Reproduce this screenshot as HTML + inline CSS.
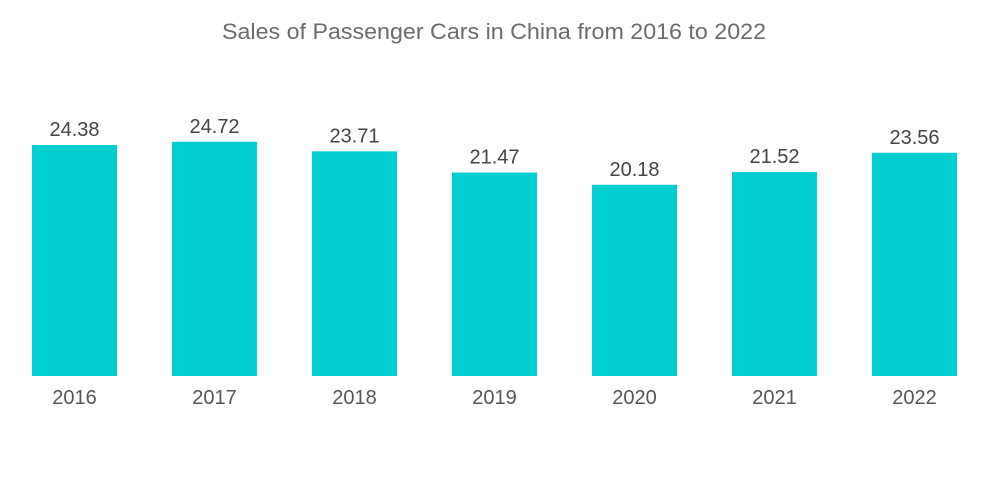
<!DOCTYPE html>
<html><head><meta charset="utf-8"><style>
html,body{margin:0;padding:0;background:#fff;}
svg{display:block;font-family:"Liberation Sans",sans-serif;}
</style></head><body>
<svg id="chart" width="1000" height="504" viewBox="0 0 1000 504">
<text x="494" y="39" text-anchor="middle" font-size="22" fill="#6b6b6b" textLength="544" lengthAdjust="spacingAndGlyphs">Sales of Passenger Cars in China from 2016 to 2022</text>
<g id="bars"></g>
</svg>
<script>
const categories = ["2016","2017","2018","2019","2020","2021","2022"];
const values = [24.38,24.72,23.71,21.47,20.18,21.52,23.56];
const valueLabels = ["24.38","24.72","23.71","21.47","20.18","21.52","23.56"];

const baseY = 376, pxPerUnit = 9.475, x0 = 32, pitch = 140, bw = 85;
function xPos(i){ return x0 + i * pitch; }
function yPos(v){ return baseY - v * pxPerUnit; }
const g = document.getElementById('bars');
const ns = "http://www.w3.org/2000/svg";
categories.forEach((c,i)=>{
  const r = document.createElementNS(ns,'rect');
  
  
  r.setAttribute('x', xPos(i));
  r.setAttribute('y', yPos(values[i]));
  r.setAttribute('width', bw);
  r.setAttribute('height', baseY - yPos(values[i]));
  r.setAttribute('fill', '#00CED1');
  g.appendChild(r);
  const t = document.createElementNS(ns,'text');
  
  
  t.setAttribute('x', xPos(i) + bw/2);
  t.setAttribute('y', yPos(values[i]) - 9);
  t.setAttribute('text-anchor', 'middle');
  t.setAttribute('font-size', '20');
  t.setAttribute('fill', '#444');
  t.textContent = valueLabels[i];
  g.appendChild(t);
  const l = document.createElementNS(ns,'text');
  
  
  l.setAttribute('x', xPos(i) + bw/2);
  l.setAttribute('y', 404);
  l.setAttribute('text-anchor', 'middle');
  l.setAttribute('font-size', '20');
  l.setAttribute('fill', '#555');
  l.textContent = c;
  g.appendChild(l);
});
</script>
</body></html>
